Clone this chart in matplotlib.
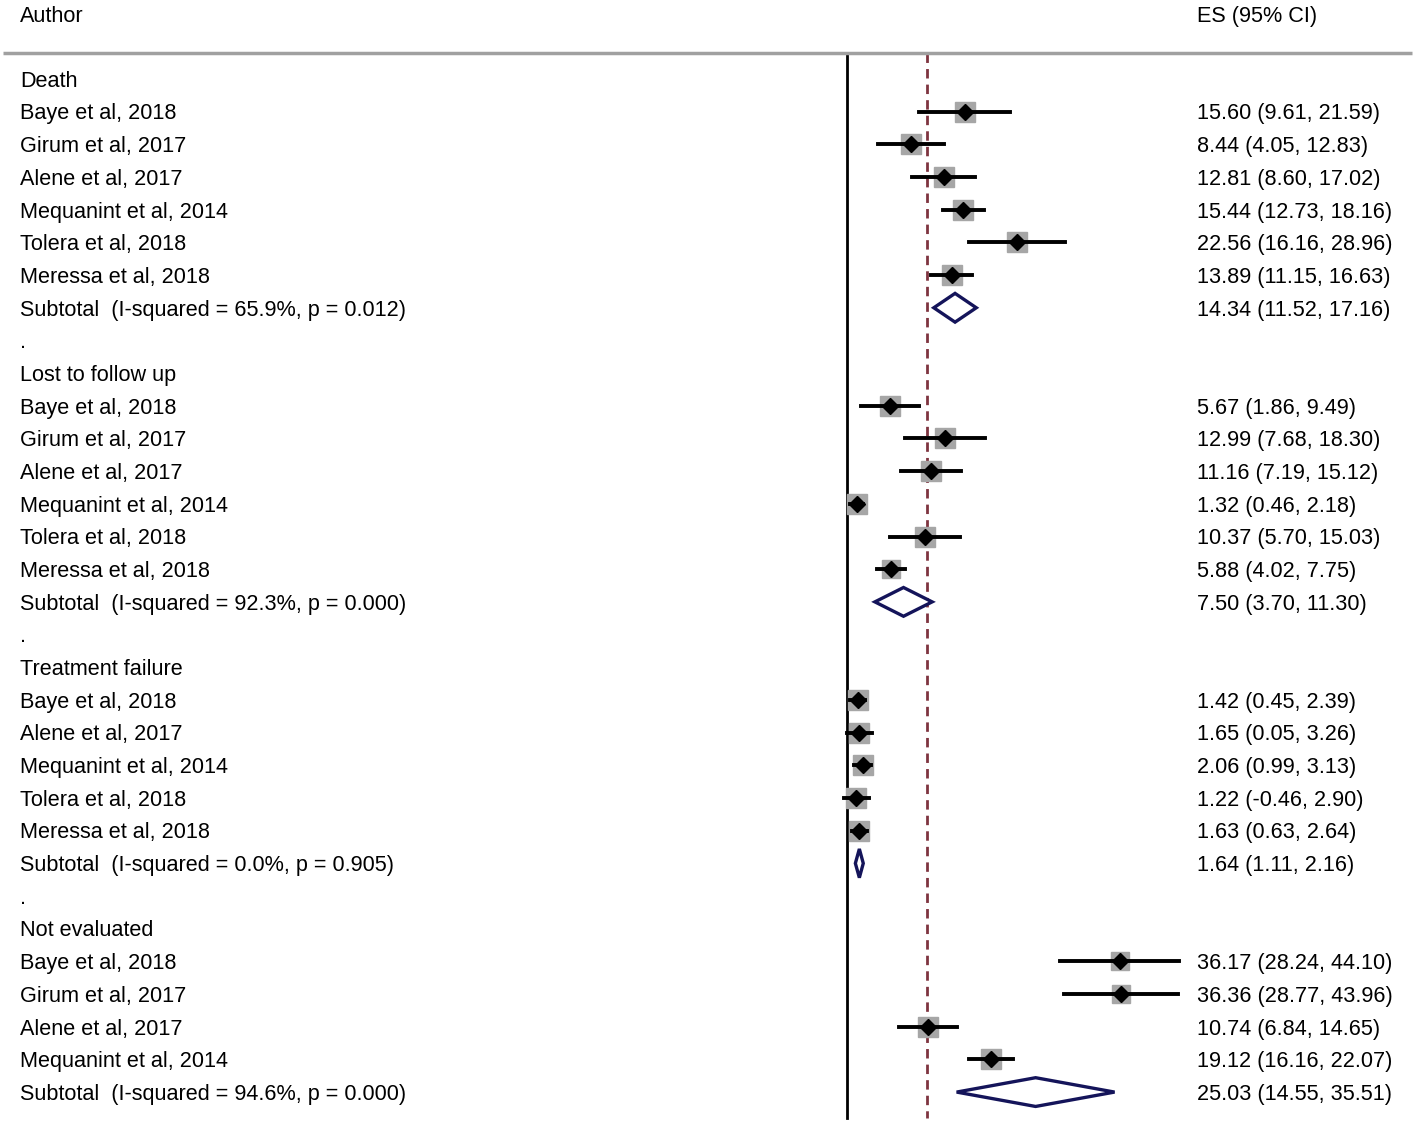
import numpy as np
import matplotlib.pyplot as plt
from matplotlib.patches import Polygon
import matplotlib.transforms as mtransforms

plt.rcParams['font.family'] = ['Liberation Sans', 'DejaVu Sans']

# ---------------------------------------------
# DATA
# ---------------------------------------------
groups = ["Death", "Lost to follow up", "Treatment failure", "Not evaluated"]

study_names = [
    ["Baye et al, 2018", "Girum et al, 2017", "Alene et al, 2017",
     "Mequanint et al, 2014", "Tolera et al, 2018", "Meressa et al, 2018"],
    ["Baye et al, 2018", "Girum et al, 2017", "Alene et al, 2017",
     "Mequanint et al, 2014", "Tolera et al, 2018", "Meressa et al, 2018"],
    ["Baye et al, 2018", "Alene et al, 2017", "Mequanint et al, 2014",
     "Tolera et al, 2018", "Meressa et al, 2018"],
    ["Baye et al, 2018", "Girum et al, 2017", "Alene et al, 2017",
     "Mequanint et al, 2014"],
]
es = [
    [15.60, 8.44, 12.81, 15.44, 22.56, 13.89],
    [5.67, 12.99, 11.16, 1.32, 10.37, 5.88],
    [1.42, 1.65, 2.06, 1.22, 1.63],
    [36.17, 36.36, 10.74, 19.12],
]
lo = [
    [9.61, 4.05, 8.60, 12.73, 16.16, 11.15],
    [1.86, 7.68, 7.19, 0.46, 5.70, 4.02],
    [0.45, 0.05, 0.99, -0.46, 0.63],
    [28.24, 28.77, 6.84, 16.16],
]
hi = [
    [21.59, 12.83, 17.02, 18.16, 28.96, 16.63],
    [9.49, 18.30, 15.12, 2.18, 15.03, 7.75],
    [2.39, 3.26, 3.13, 2.90, 2.64],
    [44.10, 43.96, 14.65, 22.07],
]
# study weights
weights = [
    [0.95, 1.0, 1.0, 1.0, 0.95, 1.0],
    [0.95, 0.95, 0.95, 1.0, 0.95, 0.9],
    [1.0, 1.0, 1.0, 1.0, 1.0],
    [0.85, 0.85, 0.95, 0.95],
]
sub_es = [14.34, 7.50, 1.64, 25.03]
sub_lo = [11.52, 3.70, 1.11, 14.55]
sub_hi = [17.16, 11.30, 2.16, 35.51]
sub_label = ["Subtotal  (I-squared = 65.9%, p = 0.012)",
             "Subtotal  (I-squared = 92.3%, p = 0.000)",
             "Subtotal  (I-squared = 0.0%, p = 0.905)",
             "Subtotal  (I-squared = 94.6%, p = 0.000)"]
overall = 10.6

# ---------------------------------------------
# FIGURE SETUP (pixel mapping: x0 = 847 px, 7.535 px/unit; rows 32.68 px)
# ---------------------------------------------
W, H = 1418, 1123
fig = plt.figure(figsize=(W / 100, H / 100), dpi=100)
ax = fig.add_axes([0, 0, 1, 1])
ax.set_xlim(-847 / 7.535, (W - 847) / 7.535)
ax.set_ylim((H - 79) / 32.68, -79 / 32.68)
ax.axis('off')
blend = mtransforms.blended_transform_factory(ax.transAxes, ax.transData)

fs = 15.6
toff = 0.07  # small nudge so text sits like the original
txt_left = 20 / W
txt_right = 1197 / W

ax.text(txt_left, -1.99 + toff, "Author", transform=blend, fontsize=fs, va='center')
ax.text(txt_right, -1.99 + toff, "ES (95% CI)", transform=blend, fontsize=fs, va='center')
ax.plot([3 / W, 1412 / W], [-0.8, -0.8], transform=blend, color='#a0a0a0', lw=2.5,
        solid_capstyle='butt')

row = 0
bottom = (1118 - 79) / 32.68
ax.plot([0, 0], [-0.8, bottom], color='black', lw=2, zorder=1)
ax.plot([overall, overall], [-0.8, bottom], color='#7e3440', lw=2.0,
        dashes=(3.4, 2.2), zorder=1)

for g in range(len(groups)):
    ax.text(txt_left, row + toff, groups[g], transform=blend, fontsize=fs, va='center')
    row += 1
    for k in range(len(study_names[g])):
        ax.text(txt_left, row + toff, study_names[g][k], transform=blend, fontsize=fs, va='center')
        ax.text(txt_right, row + toff, f"{es[g][k]:.2f} ({lo[g][k]:.2f}, {hi[g][k]:.2f})",
                transform=blend, fontsize=fs, va='center')
        ax.plot(es[g][k], row, marker='s', ms=14.5 * weights[g][k], color='#a6a6a6',
                mec='#a6a6a6', zorder=2)
        ax.plot([lo[g][k], hi[g][k]], [row, row], color='black', lw=2.8, zorder=3)
        ax.plot(es[g][k], row, marker='D', ms=8, color='black', zorder=4)
        row += 1
    ax.text(txt_left, row + toff, sub_label[g], transform=blend, fontsize=fs, va='center')
    ax.text(txt_right, row + toff, f"{sub_es[g]:.2f} ({sub_lo[g]:.2f}, {sub_hi[g]:.2f})",
            transform=blend, fontsize=fs, va='center')
    dh = 0.44
    diamond = Polygon([[sub_lo[g], row], [sub_es[g], row - dh], [sub_hi[g], row],
                       [sub_es[g], row + dh]], closed=True, facecolor='white',
                      edgecolor='#14145a', lw=2.4, zorder=5)
    ax.add_patch(diamond)
    row += 1
    if g < len(groups) - 1:
        ax.text(txt_left, row + toff, ".", transform=blend, fontsize=fs, va='center')
        row += 1

fig.savefig("out.png", dpi=100)
